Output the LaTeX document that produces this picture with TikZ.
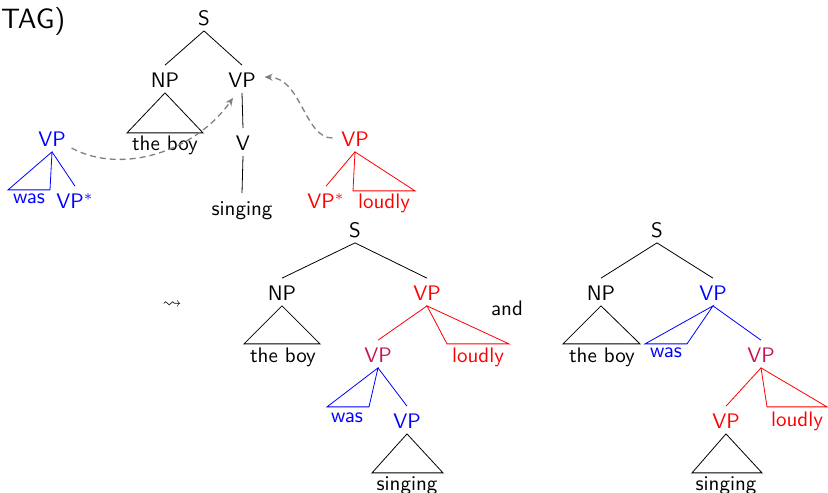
\documentclass[tikz,border=0pt]{standalone}
\usepackage{amssymb}
\usetikzlibrary{arrows.meta,calc}
\definecolor{vpmix}{rgb}{0.78,0.08,0.33}
\begin{document}
\begin{tikzpicture}[x=1pt,y=-1pt,line width=0.8pt,
  lab/.style={inner sep=0pt, text height=10pt, text depth=2.4pt, anchor=base,
    font=\sffamily\fontsize{10}{12}\selectfont, scale=2.1, transform shape},
  darr/.style={gray, dash pattern=on 6pt off 4pt, line width=1.3pt,
    -{Stealth[length=8pt,width=7pt]}}]
\useasboundingbox (0,0) rectangle (828,493);
\node[anchor=base west, inner sep=0pt, font=\sffamily\fontsize{10}{12}\selectfont, scale=2.8, transform shape] (title) at (0,28) {TAG)};

% top tree
\node[lab] (tS) at (204,25) {S};
\node[lab] (tNP) at (165,87) {NP};
\node[lab] (tVP) at (242,87) {VP};
\node[lab] (tV) at (243,150) {V};
\node[lab] (tboy) at (165,150) {the boy};
\node[lab] (tsing) at (242,215) {singing};
\draw (tS.south) -- (tNP.north);
\draw (tS.south) -- (tVP.north);
\draw (tNP.south) -- ++(-38,40) -- ++(76,0) -- cycle;
\draw (tVP.south) -- (tV.north);
\draw (tV.south) -- (tsing.north);

% blue auxiliary tree
\node[lab,blue] (bVP) at (52,146) {VP};
\node[lab,blue] (bwas) at (29,203) {was};
\node[lab,blue] (bfoot) at (75,208) {VP$^*$};
\draw[blue] (bVP.south) -- ++(-44,38) -- ++(42,0) -- cycle;
\draw[blue] (bVP.south) -- (bfoot.north);

% red auxiliary tree
\node[lab,red] (rVP) at (355,146) {VP};
\node[lab,red] (rfoot) at (326,208) {VP$^*$};
\node[lab,red] (rloud) at (384,208) {loudly};
\draw[red] (rVP.south) -- ++(-2,39) -- ++(62,0) -- cycle;
\draw[red] (rVP.south) -- (rfoot.north);

% adjunction arrows
\draw[darr] ($(bVP.east)+(5,10)$) .. controls +(50,27) and +(-38,54) .. ($(tVP.south)+(-9,5)$);
\draw[darr] ($(rVP.west)+(-8,0)$) .. controls +(-28,0) and +(37,1) .. ($(tVP.east)+(8,-2)$);

% leadsto and "and"
\node[inner sep=0pt, font=\fontsize{9}{11}\selectfont, scale=2.1, transform shape] (lt) at (172,305) {$\leadsto$};
\node[lab] (and) at (507,315) {and};

% bottom-left derived tree
\node[lab] (lS) at (355,237) {S};
\node[lab] (lNP) at (282,300) {NP};
\node[lab,red] (lVP) at (427,300) {VP};
\node[lab] (lboy) at (283,362) {the boy};
\node[lab,vpmix] (lVPm) at (378,362) {VP};
\node[lab,red] (lloud) at (478,362) {loudly};
\node[lab,blue] (lwas) at (347,422) {was};
\node[lab,blue] (lVPb) at (407,428) {VP};
\node[lab] (lsing) at (407,490) {singing};
\draw (lS.south) -- (lNP.north);
\draw (lS.south) -- (lVP.north);
\draw (lNP.south) -- ++(-38,38) -- ++(76,0) -- cycle;
\draw[red] (lVP.south) -- (lVPm.north);
\draw[red] (lVP.south) -- ++(20,38) -- ++(62,0) -- cycle;
\draw[blue] (lVPm.south) -- (lVPb.north);
\draw[blue] (lVPm.south) -- ++(-51,39) -- ++(42,0) -- cycle;
\draw (lVPb.south) -- ++(-35,39) -- ++(71,0) -- cycle;

% bottom-right derived tree
\node[lab] (rS) at (657,237) {S};
\node[lab] (rNP) at (601,300) {NP};
\node[lab,blue] (rrVP) at (713,300) {VP};
\node[lab] (rboy) at (602,362) {the boy};
\node[lab,blue] (rwas) at (666,357) {was};
\node[lab,vpmix] (rVPm) at (761,362) {VP};
\node[lab,red] (rVPr) at (726,428) {VP};
\node[lab,red] (rloud2) at (797,426) {loudly};
\node[lab] (rsing) at (726,490) {singing};
\draw (rS.south) -- (rNP.north);
\draw (rS.south) -- (rrVP.north);
\draw (rNP.south) -- ++(-38,38) -- ++(77,0) -- cycle;
\draw[blue] (rrVP.south) -- ++(-68,38) -- ++(42,0) -- cycle;
\draw[blue] (rrVP.south) -- (rVPm.north);
\draw[red] (rVPm.south) -- (rVPr.north);
\draw[red] (rVPm.south) -- ++(6,39) -- ++(60,0) -- cycle;
\draw (rVPr.south) -- ++(-34,39) -- ++(70,0) -- cycle;
\end{tikzpicture}
\end{document}
